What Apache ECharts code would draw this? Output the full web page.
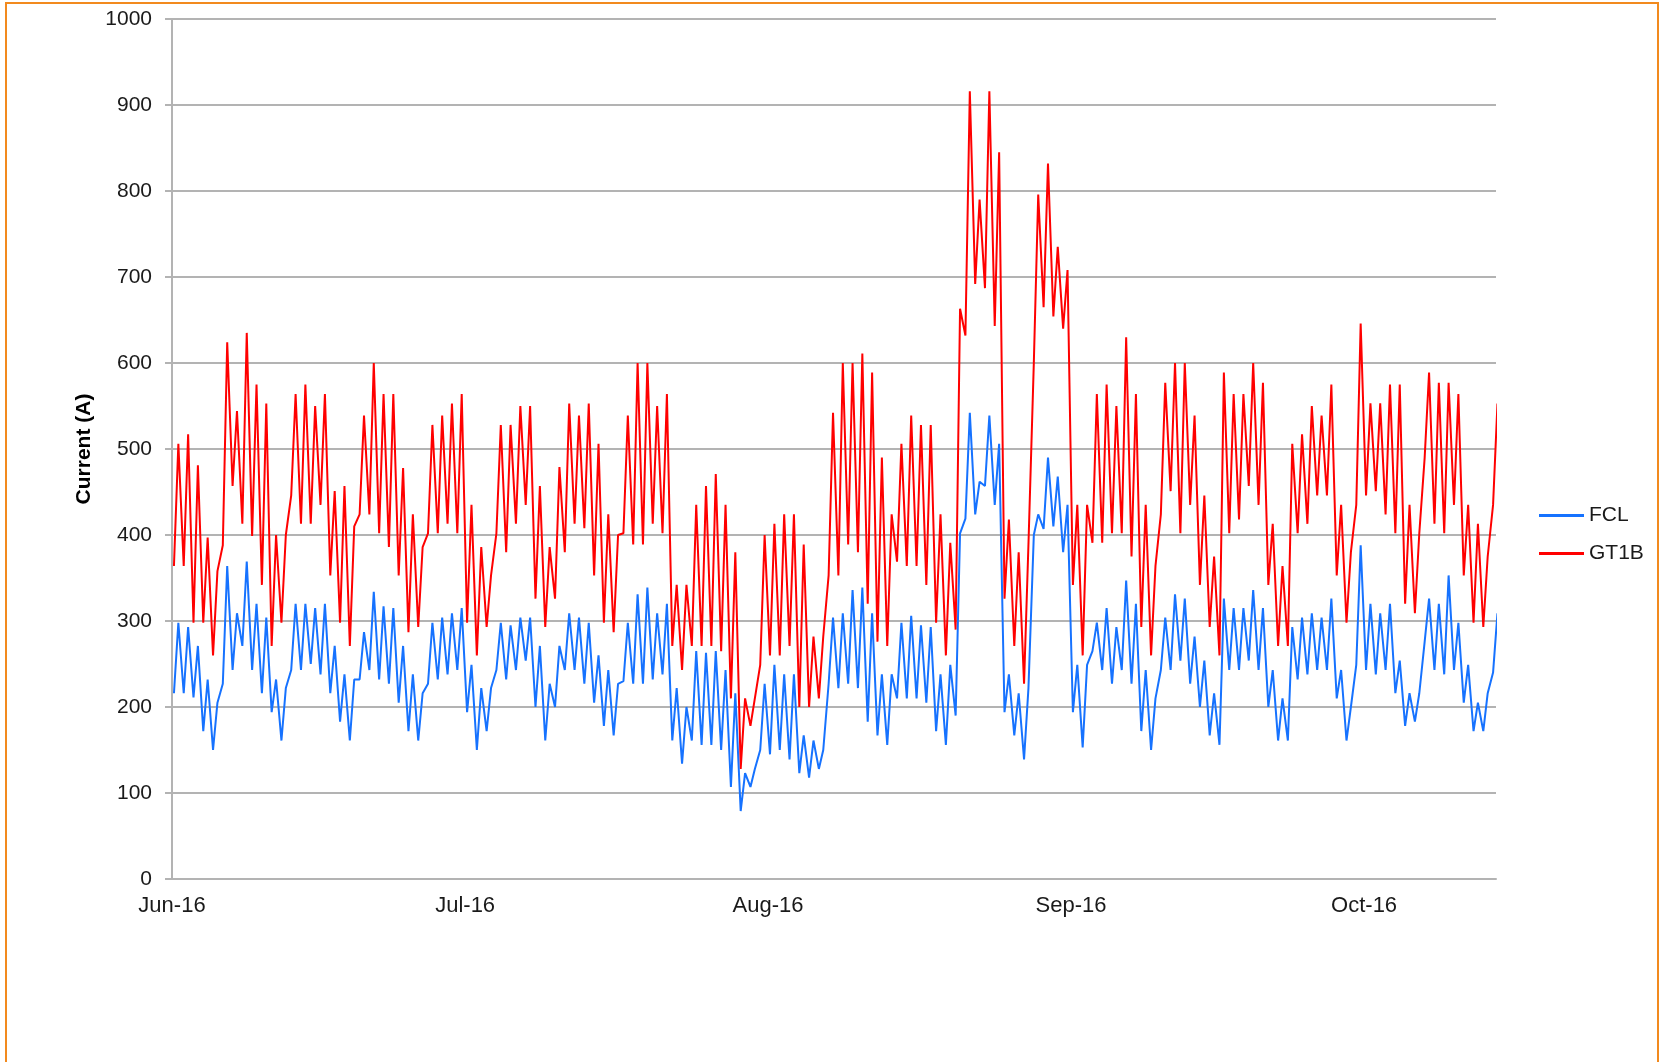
<!DOCTYPE html>
<html>
<head>
<meta charset="utf-8">
<title>FCL / GT1B current</title>
<script src="https://cdn.jsdelivr.net/npm/echarts@6/dist/echarts.min.js"></script>
<style>
  html, body { margin: 0; padding: 0; background: #fff; overflow: hidden; }
  #frame { position: absolute; left: 5px; top: 2px; width: 1654px; height: 1100px; border: 2px solid #f28a1e; box-sizing: border-box; }
  #chart { position: absolute; left: 0; top: 0; width: 1665px; height: 1062px; }
</style>
</head>
<body>
<div id="frame"></div>
<div id="chart"></div>
<script>
// axis start (1 June 2016) and month tick labels
const START = new Date(2016, 5, 1).getTime();
const DAY = 86400000;
const monthStarts = [new Date(2016, 5, 1), new Date(2016, 6, 1), new Date(2016, 7, 1), new Date(2016, 8, 1), new Date(2016, 9, 1)].map(d => d.getTime());
const monthLabels = ['Jun-16', 'Jul-16', 'Aug-16', 'Sep-16', 'Oct-16'];
const lastDay = 135.5;

// daily high / low, one value per day from 1 June
const gt1bMax = [506,517,481,397,358,624,544,635,575,553,400,400,564,575,550,564,451,457,410,539,
  600,564,564,478,424,386,528,539,553,564,435,386,353,528,528,550,550,457,386,479,
  553,539,553,506,424,400,539,600,600,550,564,342,342,435,457,471,435,380,210,210,
  400,413,424,424,389,282,282,542,600,600,611,589,490,424,506,539,528,528,424,391,
  663,916,790,916,845,418,380,389,796,832,735,708,435,435,564,575,550,630,564,435,
  364,577,600,600,539,446,375,589,564,564,600,577,413,364,506,517,550,539,575,435,
  380,646,553,553,575,575,435,402,589,577,577,564,435,413,375,553];
const gt1bMin = [364,364,298,298,260,388,457,413,399,342,271,298,446,413,413,435,353,298,271,424,
  424,402,386,353,287,293,402,402,413,402,298,260,293,402,380,413,435,326,293,326,
  380,413,408,353,298,287,402,389,389,413,402,271,243,271,271,271,265,210,128,178,
  249,260,260,271,200,200,210,353,353,389,380,320,276,271,369,364,364,342,298,260,
  290,632,692,687,643,326,271,227,600,665,654,640,342,260,391,391,402,402,375,293,
  260,424,451,402,435,342,293,260,402,418,457,435,342,271,271,402,413,446,446,353,
  298,435,446,451,424,402,320,309,490,413,402,435,353,298,293,435];
const fclMax = [298,293,271,232,205,364,309,369,320,304,232,222,320,320,315,320,271,238,232,287,
  334,317,315,271,238,216,298,304,309,315,249,222,222,298,295,304,304,271,227,271,
  309,304,298,260,243,227,298,331,339,309,320,222,200,265,263,265,243,216,123,128,
  227,249,238,238,167,161,150,304,309,336,339,309,238,238,298,306,295,293,238,249,
  402,542,462,539,506,238,216,222,424,490,468,435,249,249,298,315,293,347,320,243,
  210,304,331,326,282,254,216,326,315,315,336,315,243,210,293,304,309,304,326,243,
  200,388,320,309,320,254,216,216,326,320,353,298,249,205,216,309];
const fclMin = [216,216,211,172,150,227,243,271,243,216,194,161,243,243,250,238,216,183,161,232,
  243,232,227,205,172,161,227,232,238,243,194,150,172,243,232,243,254,200,161,200,
  243,243,227,205,178,167,230,227,227,232,238,161,134,161,156,156,150,107,79,107,
  150,145,150,139,123,118,128,227,222,227,222,183,167,156,210,210,210,205,172,156,
  190,419,424,457,435,194,167,139,400,407,410,380,194,153,265,243,227,243,227,172,
  150,243,243,254,227,200,167,156,243,243,254,243,200,161,161,232,238,243,243,210,
  161,249,243,238,243,216,178,183,276,243,238,243,205,172,172,240];

// each day: night low, then daytime high
function toPoints(mins, maxs) {
  const pts = [];
  for (let d = 0; d < mins.length; d++) {
    pts.push([START + (d + 0.2) * DAY, mins[d]]);
    pts.push([START + (d + 0.65) * DAY, maxs[d]]);
  }
  return pts;
}

const FONT = '"Liberation Sans", Arial, sans-serif';
const myChart = echarts.init(document.getElementById('chart'));

const option = {
  animation: false,
  backgroundColor: 'transparent',
  grid: { left: 172, right: 169, top: 19, bottom: 183 },
  legend: {
    data: ['FCL', 'GT1B'],
    orient: 'vertical',
    left: 1534,
    top: 500,
    icon: 'rect',
    itemWidth: 45,
    itemHeight: 3,
    itemGap: 17,
    textStyle: { fontFamily: FONT, fontSize: 21, color: '#1a1a1a' }
  },
  xAxis: {
    type: 'value',
    min: START,
    max: START + lastDay * DAY,
    splitLine: { show: false },
    axisLine: { show: true, lineStyle: { color: '#b3b3b3', width: 2 } },
    axisTick: { show: false },
    axisLabel: {
      customValues: monthStarts,
      margin: 16,
      fontFamily: FONT,
      fontSize: 22,
      color: '#1a1a1a',
      formatter: v => {
        const i = monthStarts.indexOf(v);
        return i >= 0 ? monthLabels[i] : '';
      }
    }
  },
  yAxis: {
    type: 'value',
    min: 0,
    max: 1000,
    interval: 100,
    name: 'Current (A)',
    nameLocation: 'middle',
    nameGap: 75,
    nameTextStyle: { fontFamily: FONT, fontSize: 21, fontWeight: 'bold', color: '#000' },
    axisLine: { show: true, lineStyle: { color: '#b3b3b3', width: 2 } },
    axisTick: { show: true, length: 7, lineStyle: { color: '#b3b3b3', width: 2 } },
    splitLine: { show: true, lineStyle: { color: '#b3b3b3', width: 2 } },
    axisLabel: { margin: 20, fontFamily: FONT, fontSize: 21, color: '#1a1a1a', formatter: v => String(v) }
  },
  series: [
    {
      name: 'GT1B',
      type: 'line',
      data: toPoints(gt1bMin, gt1bMax),
      showSymbol: false,
      lineStyle: { width: 2, color: '#ff0000' },
      itemStyle: { color: '#ff0000' }
    },
    {
      name: 'FCL',
      type: 'line',
      data: toPoints(fclMin, fclMax),
      showSymbol: false,
      lineStyle: { width: 2, color: '#1672ff' },
      itemStyle: { color: '#1672ff' }
    }
  ]
};

myChart.setOption(option);
</script>
</body>
</html>
